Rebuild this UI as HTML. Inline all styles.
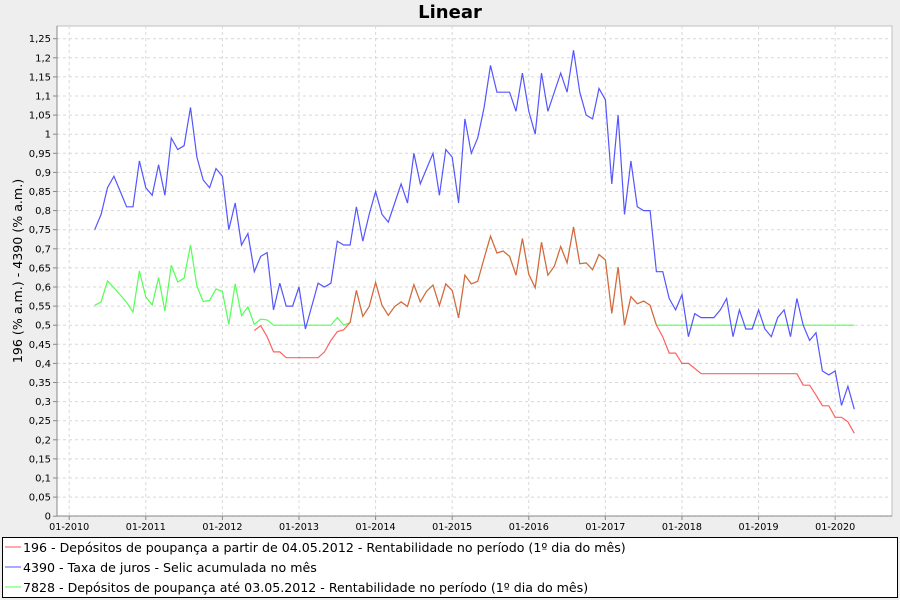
<!DOCTYPE html>
<html><head><meta charset="utf-8"><style>
body{margin:0;background:#eeeeee;}
svg{display:block;font-family:"DejaVu Sans","Liberation Sans",sans-serif;}
</style></head><body>
<svg id="chart" width="900" height="600">
<rect x="0" y="0" width="900" height="600" fill="#eeeeee"/>
<text x="450" y="18" text-anchor="middle" font-size="18" font-weight="bold" fill="#000">Linear</text>
<rect x="57" y="26" width="835" height="490" fill="#ffffff" stroke="#c0c0c0"/>
<g id="grid"></g>
<g id="axes"></g>
<g id="series"></g>
<text transform="translate(22,271) rotate(-90)" text-anchor="middle" font-size="12.6" fill="#000">196 (% a.m.) - 4390 (% a.m.)</text>
<g>
<rect x="2.5" y="537.5" width="895" height="60" fill="#fff" stroke="#000"/>
<g><line x1="5" y1="547" x2="21" y2="547" stroke="#ff5555"/><text x="23" y="552" font-size="12.6">196 - Depósitos de poupança a partir de 04.05.2012 - Rentabilidade no período (1º dia do mês)</text></g>
<g><line x1="5" y1="567" x2="21" y2="567" stroke="#5555ff"/><text x="23" y="572" font-size="12.6">4390 - Taxa de juros - Selic acumulada no mês</text></g>
<g><line x1="5" y1="587" x2="21" y2="587" stroke="#55ff55"/><text x="23" y="592" font-size="12.6">7828 - Depósitos de poupança até 03.05.2012 - Rentabilidade no período (1º dia do mês)</text></g>
</g>
</svg>
<script>
const yearLabels = ["01-2010","01-2011","01-2012","01-2013","01-2014","01-2015","01-2016","01-2017","01-2018","01-2019","01-2020"];
const yTicks = ["0","0,05","0,1","0,15","0,2","0,25","0,3","0,35","0,4","0,45","0,5","0,55","0,6","0,65","0,7","0,75","0,8","0,85","0,9","0,95","1","1,05","1,1","1,15","1,2","1,25"];
// month index 0 = 01-2010; series start at index given
const selicStart = 4;
const selic = [0.75,0.79,0.86,0.89,0.85,0.81,0.81,0.93,0.86,0.84,0.92,0.84,0.99,0.96,0.97,1.07,0.94,0.88,0.86,0.91,0.89,0.75,0.82,0.71,0.74,0.64,0.68,0.69,0.54,0.61,0.55,0.55,0.60,0.49,0.55,
0.61,0.60,0.61,0.72,0.71,0.71,0.81,0.72,0.79,0.85,0.79,0.77,0.82,0.87,0.82,0.95,0.87,0.91,0.95,0.84,0.96,0.94,0.82,1.04,0.95,0.99,1.07,1.18,1.11,1.11,1.11,1.06,1.16,1.06,1.00,1.16,1.06,1.11,1.16,1.11,1.22,1.11,1.05,1.04,1.12,1.09,0.87,1.05,
0.79,0.93,0.81,0.80,0.80,0.64,0.64,0.57,0.54,0.58,0.47,0.53,0.52,0.52,0.52,0.54,0.57,0.47,0.54,0.49,0.49,0.54,0.49,0.47,0.52,0.54,0.47,0.57,0.50,0.46,0.48,0.38,0.37,0.38,0.29,0.34,0.28];
const pou196Start = 29;
const pou196 = [0.486,0.499,0.47,0.43,0.43,0.415,0.415,0.415,0.415,0.415,0.415,0.43,0.46,0.483,0.488,0.507,
0.591,0.523,0.549,0.612,0.552,0.526,0.549,0.561,0.549,0.606,0.561,0.589,0.605,0.551,0.608,0.591,0.519,0.631,0.608,0.615,0.675,0.733,0.689,0.694,0.680,0.631,0.727,0.633,0.598,0.717,0.631,0.654,0.706,0.663,0.757,0.661,0.663,0.645,0.685,0.671,0.531,0.652,
0.50,0.575,0.556,0.563,0.552,0.50,0.469,0.427,0.427,0.40,0.40,0.387,
0.373,0.373,0.373,0.373,0.373,0.373,0.373,0.373,0.373,0.373,0.373,0.373,0.373,0.373,0.373,0.373,
0.343,0.343,0.317,0.289,0.289,0.259,0.259,0.247,0.217];
const pou7828Start = 4;
const pou7828 = [0.552,0.561,0.616,0.598,0.579,0.560,0.534,0.642,0.574,0.553,0.625,0.537,0.657,0.613,0.623,0.71,0.602,0.562,0.565,0.595,0.588,0.502,0.608,0.525,0.548,0.502,0.516,0.514,
0.5,0.5,0.5,0.5,0.5,0.5,0.5,0.5,0.5,0.5,0.52,0.50,0.507,
0.591,0.523,0.549,0.612,0.552,0.526,0.549,0.561,0.549,0.606,0.561,0.589,0.605,0.551,0.608,0.591,0.519,0.631,0.608,0.615,0.675,0.733,0.689,0.694,0.680,0.631,0.727,0.633,0.598,0.717,0.631,0.654,0.706,0.663,0.757,0.661,0.663,0.645,0.685,0.671,0.531,0.652,
0.50,0.575,0.556,0.563,0.552,0.50,
0.5,0.5,0.5,0.5,0.5,0.5,0.5,0.5,0.5,0.5,
0.5,0.5,0.5,0.5,0.5,0.5,0.5,0.5,0.5,0.5,
0.5,0.5,0.5,0.5,0.5,0.5,0.5,0.5,0.5,0.5,
0.5];

const NS="http://www.w3.org/2000/svg";
const X0=69.2, MONTH=6.383, Y0=516.2, YPER=382.0;
function xs(m){return X0+m*MONTH;}
function ys(v){return Y0-v*YPER;}
function mk(tag,attrs,parent){const e=document.createElementNS(NS,tag);for(const k in attrs)e.setAttribute(k,attrs[k]);parent.appendChild(e);return e;}
const grid=document.getElementById('grid'), axes=document.getElementById('axes'), ser=document.getElementById('series');
yTicks.forEach((t,i)=>{
  const y=ys(i*0.05);
  const g=mk('line',{x1:57,x2:892,y1:y,y2:y,stroke:'#d8d8d8','stroke-dasharray':'3,3'},grid);
  
  
  mk('line',{x1:53,x2:57,y1:y,y2:y,stroke:'#888'},axes);
  const tx=mk('text',{x:51,y:y+3.5,'text-anchor':'end','font-size':'10',fill:'#000'},axes);
  tx.textContent=t;
  
  
});
yearLabels.forEach((t,i)=>{
  const x=xs(i*12);
  const g=mk('line',{x1:x,x2:x,y1:26,y2:516,stroke:'#d8d8d8','stroke-dasharray':'3,3'},grid);
  
  
  mk('line',{x1:x,x2:x,y1:516,y2:520,stroke:'#888'},axes);
  const tx=mk('text',{x:x,y:530,'text-anchor':'middle','font-size':'9.6',fill:'#000'},axes);
  tx.textContent=t;
  
  
});
mk('line',{x1:57,x2:57,y1:26,y2:516,stroke:'#888'},axes);
mk('line',{x1:57,x2:892,y1:516,y2:516,stroke:'#888'},axes);
function path(arr,start,color,name,op){
  const d=arr.map((v,i)=>(i?'L':'M')+xs(start+i).toFixed(1)+','+ys(v).toFixed(1)).join('');
  const p=mk('path',{d:d,fill:'none',stroke:color,'stroke-width':'1.2','stroke-opacity':op},ser);
  
  
}
path(pou7828,pou7828Start,'#55ff55','series-7828-line',1);
path(selic,selicStart,'#5555ff','series-4390-line',1);
path(pou196,pou196Start,'#ff4040','series-196-line',0.82);
</script>
</body></html>
